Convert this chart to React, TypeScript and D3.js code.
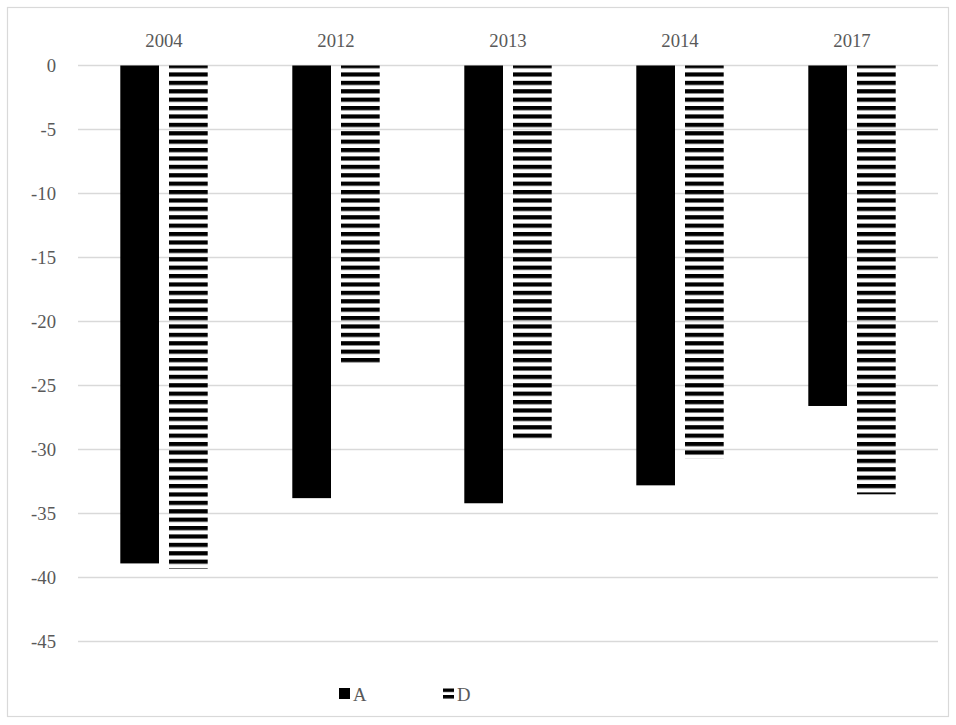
import React from "react";
import * as d3 from "d3";

const categories = ["2004", "2012", "2013", "2014", "2017"];
const seriesNames = ["A", "D"];
const valuesA = [-38.9, -33.8, -34.2, -32.8, -26.6];
const valuesD = [-39.3, -23.4, -29.2, -30.7, -33.5];
const yTicks = [0, -5, -10, -15, -20, -25, -30, -35, -40, -45];

export default function App() {
  const W = 956, H = 725;
  const left = 78, right = 938, top = 65.5, bottom = 641.5;
  const x = d3.scaleBand<string>().domain(categories).range([left, right]).paddingInner(0).paddingOuter(0);
  const y = d3.scaleLinear().domain([-45, 0]).range([bottom, top]);
  const bw = 38.7, gap = 10;
  const font = "'Liberation Serif', 'Times New Roman', serif";
  const series = [valuesA, valuesD];
  const legY = 688;
  return (
    <svg width={W} height={H} style={{ position: "absolute", left: 0, top: 0 }}>
      <defs>
        <pattern id="hstripe" patternUnits="userSpaceOnUse" width={8} height={8.4} patternTransform="translate(0, 64)">
          <rect x={0} y={0} width={8} height={4.2} fill="#000" />
        </pattern>
        <pattern id="hstripeLeg" patternUnits="userSpaceOnUse" width={8} height={6.5} patternTransform={`translate(0, ${legY + 0.5})`}>
          <rect x={0} y={0} width={8} height={3.5} fill="#000" />
        </pattern>
      </defs>
      <rect x={0} y={0} width={W} height={H} fill="#fff" />
      <rect x={7.5} y={7.5} width={941} height={709} fill="none" stroke="#d9d9d9" strokeWidth={1.2} />
      {yTicks.map((t) => (
        <g key={t}>
          <line x1={left} x2={right} y1={y(t)} y2={y(t)} stroke="#d9d9d9" strokeWidth={1.3} />
          <text x={56} y={y(t)} dy="0.35em" textAnchor="end" fontFamily={font} fontSize={18.7} fill="#595959">{t}</text>
        </g>
      ))}
      {categories.map((c) => (
        <text key={c} x={x(c)! + x.bandwidth() / 2} y={40} dy="0.35em" textAnchor="middle" fontFamily={font} fontSize={18.7} fill="#595959">{c}</text>
      ))}
      {categories.map((c, i) => {
        const cx = x(c)! + x.bandwidth() / 2;
        return (
          <g key={c}>
            {series.map((s, k) => {
              const x0 = k === 0 ? cx - gap / 2 - bw : cx + gap / 2;
              return (
                <rect key={k} x={x0} y={y(0)} width={bw} height={y(s[i]) - y(0)}
                  fill={k === 0 ? "#000" : "url(#hstripe)"} />
              );
            })}
          </g>
        );
      })}
      {seriesNames.map((n, k) => {
        const lx = k === 0 ? 339 : 443;
        return (
          <g key={n}>
            <rect x={lx} y={legY} width={11} height={11} fill={k === 0 ? "#000" : "url(#hstripeLeg)"} />
            <text x={lx + 14} y={legY + 6} dy="0.35em" fontFamily={font} fontSize={18.7} fill="#595959">{n}</text>
          </g>
        );
      })}
    </svg>
  );
}
